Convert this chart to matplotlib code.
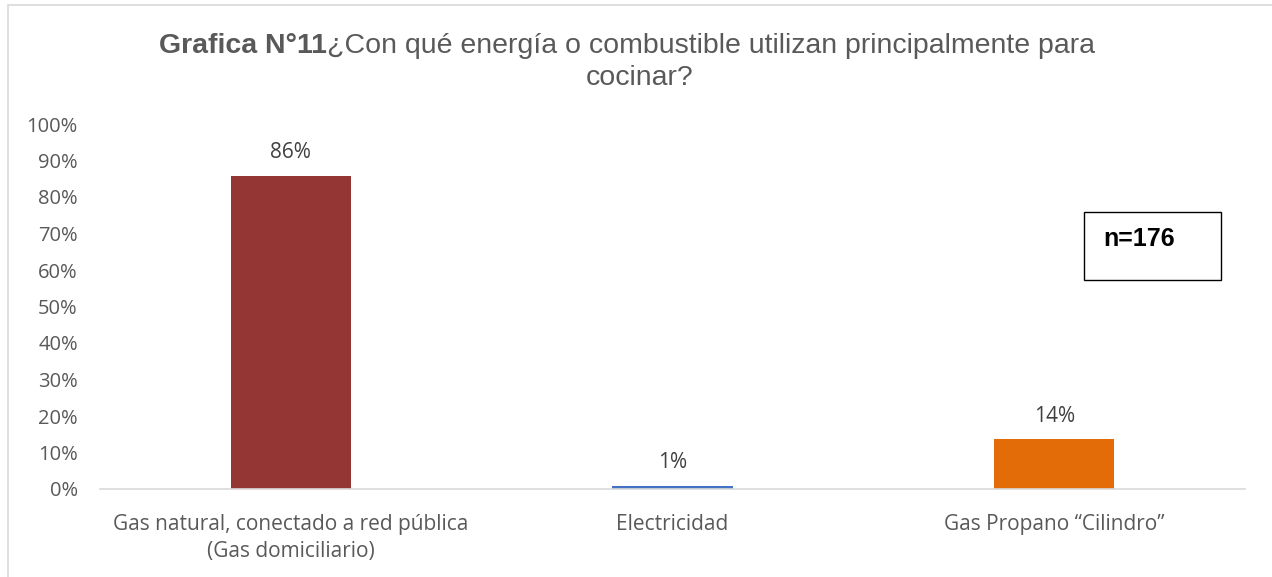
import matplotlib.pyplot as plt
from matplotlib.patches import Rectangle

categorias = ['Gas natural, conectado a red pública\n(Gas domiciliario)',
              'Electricidad',
              'Gas Propano \u201cCilindro\u201d']
valores = [0.858, 0.008, 0.136]
etiquetas = ['86%', '1%', '14%']
colores = ['#943634', '#4472C4', '#E36C09']
yticks = [i / 10 for i in range(11)]

W, H = 1272, 577
fig = plt.figure(figsize=(W / 100, H / 100), dpi=100)
ax = fig.add_axes([100 / W, 1 - 489 / H, 1145 / W, 365 / H])

# marco del grafico
fig.patches.append(Rectangle((8 / W, -0.1), 1.2, 1 - 5 / H + 0.1,
                             transform=fig.transFigure, fill=False,
                             edgecolor='#d9d9d9', lw=1.2))

x = range(len(categorias))
ax.bar(x, valores, width=0.315, color=colores)
for xi, v, t in zip(x, valores, etiquetas):
    ax.text(xi, v + 0.035, t, ha='center', va='bottom', fontsize=15,
            family='Open Sans', color='#404040')

ax.set_xlim(-0.5, 2.5)
ax.set_ylim(0, 1)
ax.set_yticks(yticks)
ax.set_yticklabels([f'{int(round(t * 100))}%' for t in yticks],
                   family='Open Sans', fontsize=14.5, color='#595959')
ax.set_xticks(list(x))
ax.set_xticklabels(categorias, family='Open Sans', fontsize=15,
                   color='#595959', linespacing=1.4)
ax.tick_params(axis='y', length=0, pad=16)
ax.tick_params(axis='x', length=0, pad=18)
for s in ['top', 'right', 'left']:
    ax.spines[s].set_visible(False)
ax.spines['bottom'].set_color('#d9d9d9')
ax.spines['bottom'].set_linewidth(1.2)

# titulo
t1 = fig.text(159 / W, 1 - 46 / H, 'Grafica N°11', fontsize=20.5,
              fontweight='bold', family='Liberation Sans', color='#595959',
              ha='left', va='center')
ax.annotate('¿Con qué energía o combustible utilizan principalmente para',
            xy=(1, 0.5), xycoords=t1, xytext=(0, 0),
            textcoords='offset points', fontsize=20.5,
            family='Liberation Sans', color='#595959', ha='left', va='center')
fig.text(640 / W, 1 - 78 / H, 'cocinar?', fontsize=20.5,
         family='Liberation Sans', color='#595959', ha='center', va='center')

# cuadro n
fig.patches.append(Rectangle((1084 / W, 1 - 280 / H), 137 / W, 68 / H,
                             transform=fig.transFigure, fill=False,
                             edgecolor='black', lw=1))
fig.text(1103 / W, 1 - 239 / H, 'n=176', fontsize=18, fontweight='bold',
         family='Liberation Sans', color='black', ha='left', va='center')

fig.savefig('out.png', dpi=100)
